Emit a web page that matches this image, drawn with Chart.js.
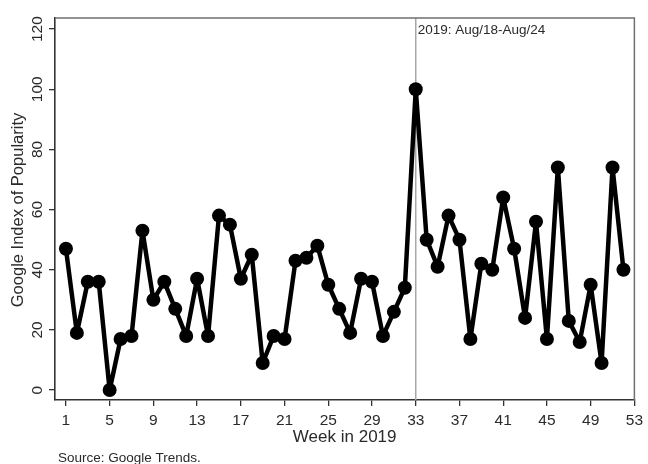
<!DOCTYPE html>
<html>
<head>
<meta charset="utf-8">
<script src="https://cdn.jsdelivr.net/npm/chart.js@4.4.1/dist/chart.umd.min.js"></script>
<style>
html,body{margin:0;padding:0;background:#fff;}
#wrap{width:648px;height:464px;position:relative;}
</style>
</head>
<body>
<div id="wrap"><canvas id="c" width="648" height="464"></canvas></div>
<script>
const weeks = Array.from({length: 52}, (_, i) => i + 1);
const popularity = [47,19,36,36,0,17,18,53,30,36,27,18,37,18,58,55,37,45,9,18,17,43,44,48,35,27,19,37,36,18,26,34,100,50,41,58,50,17,42,40,64,47,24,56,17,74,23,16,35,9,74,40];
const xTicks = [1,5,9,13,17,21,25,29,33,37,41,45,49,53];
const yTicks = [0,20,40,60,80,100,120];
const markWeek = 33;
const markLabel = "2019: Aug/18-Aug/24";
const xTitle = "Week in 2019";
const yTitle = "Google Index of Popularity";
const sourceNote = "Source: Google Trends.";

const FONT = "'Liberation Sans', Arial, sans-serif";
const TXT = '#2a2a2a';

const decor = {
  id: 'decor',
  beforeDatasetsDraw(chart) {
    const {ctx, chartArea: a, scales: {x}} = chart;
    ctx.save();
    const px = x.getPixelForValue(markWeek);
    ctx.strokeStyle = '#a8a8a8';
    ctx.lineWidth = 1.5;
    ctx.beginPath();
    ctx.moveTo(px, a.top);
    ctx.lineTo(px, a.bottom);
    ctx.stroke();
    ctx.restore();
  },
  afterDraw(chart) {
    const {ctx, chartArea: a, scales: {x, y}} = chart;
    ctx.save();
    // top/right frame
    ctx.strokeStyle = '#707070';
    ctx.lineWidth = 1.5;
    ctx.beginPath();
    ctx.moveTo(a.left, a.top);
    ctx.lineTo(a.right, a.top);
    ctx.lineTo(a.right, a.bottom);
    ctx.stroke();
    // annotation
    const px = x.getPixelForValue(markWeek);
    ctx.fillStyle = TXT;
    ctx.font = "13.5px " + FONT;
    ctx.textAlign = 'left';
    ctx.textBaseline = 'alphabetic';
    ctx.fillText(markLabel, px + 2, a.top + 16);
    // y tick labels rotated
    ctx.font = "15.5px " + FONT;
    ctx.textAlign = 'center';
    ctx.textBaseline = 'middle';
    yTicks.forEach(v => {
      const py = y.getPixelForValue(v);
      ctx.save();
      ctx.translate(38, py);
      ctx.rotate(-Math.PI / 2);
      ctx.fillText(String(v), 0, 0);
      ctx.restore();
    });
    // y title
    ctx.save();
    ctx.font = "16.5px " + FONT;
    ctx.translate(18.5, 210);
    ctx.rotate(-Math.PI / 2);
    ctx.textAlign = 'center';
    ctx.textBaseline = 'middle';
    ctx.fillText(yTitle, 0, 0);
    ctx.restore();
    // x title
    ctx.font = "17px " + FONT;
    ctx.textAlign = 'center';
    ctx.textBaseline = 'middle';
    ctx.fillText(xTitle, (a.left + a.right) / 2, 437);
    // source
    ctx.font = "13.5px " + FONT;
    ctx.textAlign = 'left';
    ctx.fillText(sourceNote, 58, 458);
    ctx.restore();
  }
};

new Chart(document.getElementById('c'), {
  type: 'line',
  data: {
    datasets: [{
      data: weeks.map((w, i) => ({x: w, y: popularity[i]})),
      borderColor: '#000',
      backgroundColor: '#000',
      borderWidth: 4.5,
      borderJoinStyle: 'round',
      borderCapStyle: 'round',
      pointRadius: 7,
      pointBorderWidth: 0,
      pointBackgroundColor: '#000',
      tension: 0,
      fill: false
    }]
  },
  options: {
    responsive: false,
    animation: false,
    devicePixelRatio: 1,
    layout: {padding: {top: 18, right: 11, left: 0, bottom: 0}},
    plugins: {legend: {display: false}, tooltip: {enabled: false}},
    scales: {
      x: {
        type: 'linear',
        min: 0, max: 53,
        afterBuildTicks: s => { s.ticks = xTicks.map(v => ({value: v})); },
        afterFit: s => { s.height = 64; },
        grid: {display: true, drawOnChartArea: false, drawTicks: true, tickLength: 6, color: '#333', lineWidth: 1.3},
        border: {display: true, color: '#333', width: 1.6},
        ticks: {font: {family: FONT, size: 15.5}, color: TXT, padding: 5, maxRotation: 0, autoSkip: false}
      },
      y: {
        type: 'linear',
        min: -3.3, max: 123.7,
        afterBuildTicks: s => { s.ticks = yTicks.map(v => ({value: v})); },
        afterFit: s => { s.width = 55; },
        grid: {display: true, drawOnChartArea: false, drawTicks: true, tickLength: 6, color: '#333', lineWidth: 1.3},
        border: {display: true, color: '#333', width: 1.6},
        ticks: {display: false}
      }
    }
  },
  plugins: [decor]
});
</script>
</body>
</html>
